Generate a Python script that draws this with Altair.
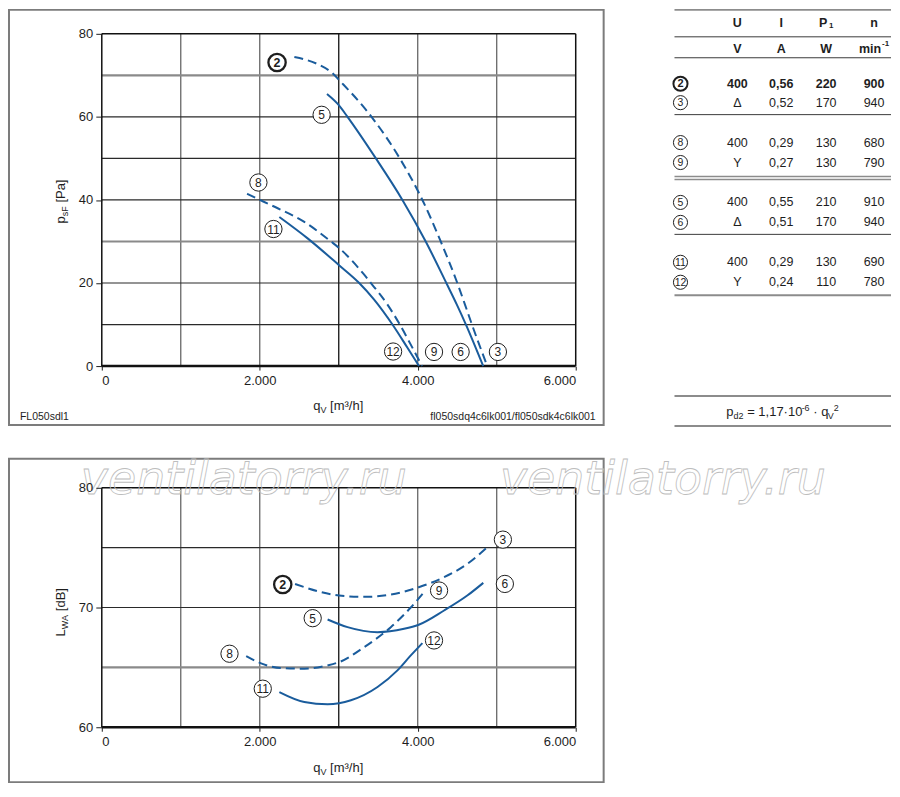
import altair as alt
import pandas as pd

FONT = "Liberation Sans"
BLUE = "#1a5c9c"
INK = "#1e1e1e"

# ---------------- axis domains / ticks ----------------
Q_DOMAIN = [0, 6000]
Q_TICKS = [0, 2000, 4000, 6000]
P_DOMAIN = [0, 80]
P_TICKS = [0, 20, 40, 60, 80]
L_DOMAIN = [60, 80]
L_TICKS = [60, 70, 80]

# grid lines
P_GRID_Q_GRAY = [1000, 2000, 4000, 5000]
P_GRID_Q_DARK = [3000]
P_GRID_V_DARK = [10, 20, 40, 50, 60]
P_GRID_V_GRAY = [30, 70]
L_GRID_Q_GRAY = [1000, 2000, 4000, 5000]
L_GRID_Q_DARK = [3000]
L_GRID_V_DARK = [70, 75]
L_GRID_V_GRAY = [65]

# ---------------- top chart: p_sF [Pa] over q_V [m3/h] ----------------
P_Q_23 = [2438, 2733, 2922, 3028, 3301, 3415, 3773, 4059, 4291, 4501, 4598, 4686, 4880]
P_V_23 = [74.4, 72.7, 70.5, 68.4, 62.7, 60.0, 50.0, 40.0, 30.0, 20.0, 14.8, 10.0, 0.0]
P_Q_56 = [2851, 3006, 3111, 3470, 3806, 4101, 4362, 4495, 4610, 4829]
P_V_56 = [65.5, 62.7, 60.0, 50.0, 40.0, 30.0, 20.0, 14.8, 10.0, 0.0]
P_Q_89 = [1840, 2000, 2227, 2564, 2901, 3000, 3322, 3407, 3617, 3773, 3905, 4055]
P_V_89 = [41.5, 40.0, 38.0, 34.7, 30.0, 28.5, 22.0, 20.0, 14.8, 10.0, 5.4, 0.0]
P_Q_1112 = [2248, 2606, 3000, 3259, 3448, 3680, 3870, 4017]
P_V_1112 = [35.9, 30.75, 24.35, 20.0, 16.0, 10.0, 4.4, 0.0]

P_LAB = ["2", "5", "8", "11", "12", "9", "6", "3"]
P_LAB_Q = [2219, 2783, 1983, 2173, 3688, 4206, 4543, 5015]
P_LAB_V = [73.1, 60.5, 44.2, 33.0, 3.5, 3.4, 3.4, 3.4]

# ---------------- bottom chart: L_WA [dB] over q_V [m3/h] ----------------
L_Q_23 = [2447, 2733, 3005, 3322, 3659, 4012, 4333, 4627, 4880]
L_V_23 = [71.97, 71.36, 71.0, 70.89, 71.08, 71.69, 72.53, 73.64, 75.03]
L_Q_56 = [2859, 3111, 3491, 3827, 4012, 4333, 4627, 4830]
L_V_56 = [69.0, 68.36, 67.94, 68.22, 68.56, 69.75, 71.0, 72.06]
L_Q_89 = [1828, 2008, 2270, 2564, 2859, 3005, 3322, 3659, 3912, 4080]
L_V_89 = [65.94, 65.36, 64.94, 64.89, 65.17, 65.44, 66.69, 68.36, 70.0, 71.28]
L_Q_1112 = [2248, 2564, 2859, 3154, 3491, 3743, 3912, 4059]
L_V_1112 = [62.94, 62.11, 61.92, 62.25, 63.36, 64.75, 66.0, 67.03]

L_LAB = ["2", "3", "6", "9", "5", "12", "8", "11"]
L_LAB_Q = [2291, 5078, 5103, 4270, 2670, 4206, 1617, 2038]
L_LAB_V = [71.92, 75.67, 71.97, 71.42, 69.11, 67.25, 66.14, 63.22]

BOLD_LABEL = "2"

# ---------------- table ----------------
TBL_HEAD_1 = ["U", "I", "P", "n"]
TBL_HEAD_2 = ["V", "A", "W", "min"]
TBL_IDS = ["2", "3", "8", "9", "5", "6", "11", "12"]
TBL_U = ["400", "Δ", "400", "Y", "400", "Δ", "400", "Y"]
TBL_I = ["0,56", "0,52", "0,29", "0,27", "0,55", "0,51", "0,29", "0,24"]
TBL_P = ["220", "170", "130", "130", "210", "170", "130", "110"]
TBL_N = ["900", "940", "680", "790", "910", "940", "690", "780"]

# Arial/Liberation advance widths (em) for laying out composed titles
W = {"p": .556, "q": .556, "d": .556, "s": .5, "F": .611, "P": .667, "a": .556,
     "[": .278, "]": .278, "m": .833, "³": .333, "/": .278, "h": .556, "V": .667,
     "L": .556, "W": .944, "A": .667, "B": .667, "=": .584, ",": .278, "·": .278,
     " ": .278, "-": .333, ".": .278}


def T(text, x, y, size=13, align="left", baseline="alphabetic", angle=0, bold=False,
      color=INK, **kw):
    return alt.Chart(pd.DataFrame({"t": [text]})).mark_text(
        align=align, baseline=baseline, fontSize=size, font=FONT, angle=angle,
        fontWeight="bold" if bold else "normal", color=color, **kw
    ).encode(text="t:N", x=alt.value(x), y=alt.value(y))


def run(pieces, x, y, angle=0):
    """Lay out text pieces one after another (spaces become explicit advances)."""
    out, pos = [], 0.0
    for text, size, shift in pieces:
        lead = len(text) - len(text.lstrip(" "))
        pos += lead * W[" "] * size
        body = text.strip(" ")
        w = sum(W.get(ch, .556) for ch in body) * size
        if angle == 0:
            out.append(T(body, x + pos, y + shift, size))
        else:
            out.append(T(body, x + shift, y - pos, size, angle=270))
        pos += w
        trail = len(text) - len(text.rstrip(" "))
        pos += trail * W[" "] * size
    return out


def curves_df(pairs):
    rows = []
    for name, qs, vs in pairs:
        for i, (q, v) in enumerate(zip(qs, vs)):
            rows.append({"s": name, "i": i, "q": q, "v": v})
    return pd.DataFrame(rows)


def panel(v_dom, v_range, v_ticks, x_offset, gq_gray, gq_dark, gv_dark, gv_gray,
          solid, dashed, labs, lab_q, lab_v):
    xs = alt.Scale(domain=Q_DOMAIN, nice=False, zero=False)
    ys = alt.Scale(domain=v_dom, range=v_range, nice=False, zero=False)
    xax = alt.Axis(values=Q_TICKS, orient="bottom", offset=x_offset, title=None, grid=False,
                   domain=False, tickSize=4, tickColor=INK, tickWidth=1, labelPadding=4,
                   labelFontSize=13, labelFont=FONT, labelColor=INK, zindex=2,
                   labelExpr="datum.value == 0 ? '0' : format(datum.value / 1000, '.3f')")
    yax = alt.Axis(values=v_ticks, orient="left", title=None, grid=False, domain=False,
                   tickSize=6, tickColor=INK, tickWidth=1, labelPadding=3, zindex=2,
                   labelFontSize=13, labelFont=FONT, labelColor=INK)

    def X(f):
        return alt.X(f, type="quantitative", scale=xs, axis=xax)

    def Y(f):
        return alt.Y(f, type="quantitative", scale=ys, axis=yax)

    def vrules(qs, color, width):
        df = pd.DataFrame({"q": qs, "v0": v_dom[0], "v1": v_dom[1]})
        return alt.Chart(df).mark_rule(color=color, strokeWidth=width).encode(
            x=X("q"), y=Y("v0"), y2=alt.Y2("v1"))

    def hrules(vs, color, width):
        df = pd.DataFrame({"v": vs, "q0": Q_DOMAIN[0], "q1": Q_DOMAIN[1]})
        return alt.Chart(df).mark_rule(color=color, strokeWidth=width).encode(
            y=Y("v"), x=X("q0"), x2=alt.X2("q1"))

    layers = [
        vrules(gq_gray, "#5a5a5a", 1.2),
        hrules(gv_gray, "#8a8a8a", 2.2),
        hrules(gv_dark, "#2a2a2a", 1.2),
        vrules(gq_dark, "#111111", 1.3),
        # plot frame
        vrules([Q_DOMAIN[0]], "#111111", 1.5),
        vrules([Q_DOMAIN[1]], "#111111", 1.5),
        hrules([v_dom[1]], "#111111", 1.5),
        hrules([v_dom[0]], "#111111", 2.6),
    ]
    layers.append(alt.Chart(curves_df(solid)).mark_line(
        color=BLUE, strokeWidth=2, interpolate="monotone").encode(
        x=X("q"), y=Y("v"), detail="s:N", order="i:Q"))
    layers.append(alt.Chart(curves_df(dashed)).mark_line(
        color=BLUE, strokeWidth=2, interpolate="monotone", strokeDash=[9, 5]).encode(
        x=X("q"), y=Y("v"), detail="s:N", order="i:Q"))

    ldf = pd.DataFrame({"t": labs, "q": lab_q, "v": lab_v})
    ldf["b"] = ldf["t"] == BOLD_LABEL
    base = alt.Chart(ldf)
    layers.append(base.transform_filter("!datum.b").mark_point(
        shape="circle", filled=True, fill="white", stroke=INK, strokeWidth=1,
        size=300, opacity=1).encode(x=X("q"), y=Y("v")))
    layers.append(base.transform_filter("datum.b").mark_point(
        shape="circle", filled=True, fill="white", stroke=INK, strokeWidth=2.3,
        size=300, opacity=1).encode(x=X("q"), y=Y("v")))
    layers.append(base.transform_filter("!datum.b").mark_text(
        font=FONT, fontSize=12, color=INK, baseline="middle", align="center", dy=0.5).encode(
        x=X("q"), y=Y("v"), text="t:N"))
    layers.append(base.transform_filter("datum.b").mark_text(
        font=FONT, fontSize=12.5, fontWeight="bold", color=INK, baseline="middle",
        align="center", dy=0.5).encode(x=X("q"), y=Y("v"), text="t:N"))
    return alt.layer(*layers)


top = panel(P_DOMAIN, [333, 0], P_TICKS, 0, P_GRID_Q_GRAY, P_GRID_Q_DARK,
            P_GRID_V_DARK, P_GRID_V_GRAY,
            [("5-6", P_Q_56, P_V_56), ("11-12", P_Q_1112, P_V_1112)],
            [("2-3", P_Q_23, P_V_23), ("8-9", P_Q_89, P_V_89)],
            P_LAB, P_LAB_Q, P_LAB_V)

bottom = panel(L_DOMAIN, [695, 455], L_TICKS, 362, L_GRID_Q_GRAY, L_GRID_Q_DARK,
               L_GRID_V_DARK, L_GRID_V_GRAY,
               [("5-6", L_Q_56, L_V_56), ("11-12", L_Q_1112, L_V_1112)],
               [("2-3", L_Q_23, L_V_23), ("8-9", L_Q_89, L_V_89)],
               L_LAB, L_LAB_Q, L_LAB_V)

# ---------------- table chart ----------------
tx = alt.Scale(domain=[0, 1, 2, 3, 4], range=[580, 637, 681, 726, 774], nice=False, zero=False)
ty = alt.Scale(domain=list(range(10)), range=[-11, 15, 50, 69, 109, 129, 169, 189, 229, 249],
               nice=False, zero=False)
TX = alt.X("c:Q", scale=tx, axis=None)
TY = alt.Y("r:Q", scale=ty, axis=None)

cells = []
for r, (u, i_, p, n) in enumerate(zip(TBL_U, TBL_I, TBL_P, TBL_N)):
    for c, val in enumerate([u, i_, p, n]):
        cells.append({"c": c + 1, "r": r + 2, "t": val, "b": r == 0})
for c, h in enumerate(TBL_HEAD_1):
    if h != "P":
        cells.append({"c": c + 1, "r": 0, "t": h, "b": True})
for c, h in enumerate(TBL_HEAD_2):
    if h != "min":
        cells.append({"c": c + 1, "r": 1, "t": h, "b": True})
cdf = pd.DataFrame(cells)
ids = pd.DataFrame({"t": TBL_IDS, "c": 0, "r": list(range(2, 10))})
ids["b"] = ids["t"] == BOLD_LABEL

tbase = alt.Chart(cdf)
tlayers = [
    tbase.transform_filter("!datum.b").mark_text(font=FONT, fontSize=12.5, color=INK,
                                                 baseline="middle", align="center").encode(
        x=TX, y=TY, text="t:N"),
    tbase.transform_filter("datum.b").mark_text(font=FONT, fontSize=12.5, fontWeight="bold",
                                                color=INK, baseline="middle", align="center").encode(
        x=TX, y=TY, text="t:N"),
    alt.Chart(pd.DataFrame({"t": ["P"], "c": [3], "r": [0]})).mark_text(
        font=FONT, fontSize=12.5, fontWeight="bold", color=INK, baseline="middle",
        align="center", dx=-3).encode(x=TX, y=TY, text="t:N"),
    alt.Chart(pd.DataFrame({"t": ["1"], "c": [3], "r": [0]})).mark_text(
        font=FONT, fontSize=8, fontWeight="bold", color=INK, baseline="middle",
        align="center", dx=5, dy=3).encode(x=TX, y=TY, text="t:N"),
    alt.Chart(pd.DataFrame({"t": ["min"], "c": [4], "r": [1]})).mark_text(
        font=FONT, fontSize=12.5, fontWeight="bold", color=INK, baseline="middle",
        align="center", dx=-4).encode(x=TX, y=TY, text="t:N"),
    alt.Chart(pd.DataFrame({"t": ["-1"], "c": [4], "r": [1]})).mark_text(
        font=FONT, fontSize=8, fontWeight="bold", color=INK, baseline="middle",
        align="left", dx=8, dy=-5).encode(x=TX, y=TY, text="t:N"),
    alt.Chart(ids).transform_filter("!datum.b").mark_point(
        shape="circle", filled=True, fill="white", stroke=INK, strokeWidth=1, size=200,
        opacity=1).encode(x=TX, y=TY),
    alt.Chart(ids).transform_filter("datum.b").mark_point(
        shape="circle", filled=True, fill="white", stroke=INK, strokeWidth=2, size=200,
        opacity=1).encode(x=TX, y=TY),
    alt.Chart(ids).transform_filter("!datum.b").mark_text(
        font=FONT, fontSize=10.5, color=INK, baseline="middle", align="center", dy=0.5).encode(
        x=TX, y=TY, text="t:N"),
    alt.Chart(ids).transform_filter("datum.b").mark_text(
        font=FONT, fontSize=11, fontWeight="bold", color=INK, baseline="middle", align="center",
        dy=0.5).encode(x=TX, y=TY, text="t:N"),
]
table = alt.layer(*tlayers)


def hline(y, color, width, x0=574, x1=791):
    return alt.Chart(pd.DataFrame({"k": [0]})).mark_rule(color=color, strokeWidth=width).encode(
        x=alt.value(x0), x2=alt.value(x1), y=alt.value(y))


table_lines = [hline(y, "#8c8c8c", 2) for y in [-24, 262, 363, 393]] + \
              [hline(y, "#3a3a3a", 1) for y in [3, 24, 81, 201]] + \
              [hline(y, "#8c8c8c", 1.3) for y in [143, 146]]


def frame(x0, x1, y0, y1):
    return alt.Chart(pd.DataFrame({"k": [0]})).mark_rect(
        fill="white", fillOpacity=0, stroke="#7c7c7c", strokeWidth=2).encode(
        x=alt.value(x0), x2=alt.value(x1), y=alt.value(y0), y2=alt.value(y1))


frames = [frame(-93, 503, -24, 392), frame(-93, 503, 426, 750)]

texts = []
texts += run([("q", 13, 0), ("V", 9, 3), (" [m³/h]", 13, 0)], 212, 377)
texts += run([("q", 13, 0), ("V", 9, 3), (" [m³/h]", 13, 0)], 212, 740)
texts += run([("p", 13, 0), ("sF", 9, 3), (" [Pa]", 13, 0)], -37, 190, angle=270)
texts += run([("L", 13, 0), ("WA", 9, 3), (" [dB]", 13, 0)], -37, 604, angle=270)
texts += run([("p", 13, 0), ("d2", 9, 3), (" = 1,17·10", 13, 0), ("-6", 9, -5),
              (" · q", 13, 0), ("V", 9, 3), ("2", 9, -5)], 626, 383)
texts.append(T("FL050sdl1", -82, 387, size=10.5))
texts.append(T("fl050sdq4c6lk001/fl050sdk4c6lk001", 495, 387, size=10.5, align="right"))

WATERMARK = "ventilatorry.ru"
marks_wm = [
    alt.Chart(pd.DataFrame({"t": [WATERMARK]})).mark_text(
        font="DejaVu Sans", fontSize=46, fontStyle="italic", align="left",
        baseline="alphabetic", fill="white", fillOpacity=0, stroke="#bdbdbd",
        strokeWidth=0.8).encode(text="t:N", x=alt.value(x), y=alt.value(461))
    for x in [-21, 399]
]

chart = alt.layer(
    *frames, top, bottom, table, *table_lines, *texts, *marks_wm
).resolve_scale(x="independent", y="independent").properties(
    width=475, height=333, padding=0
).configure_view(stroke=None)

chart.save("out.html", embed_options={"renderer": "svg", "actions": False})
